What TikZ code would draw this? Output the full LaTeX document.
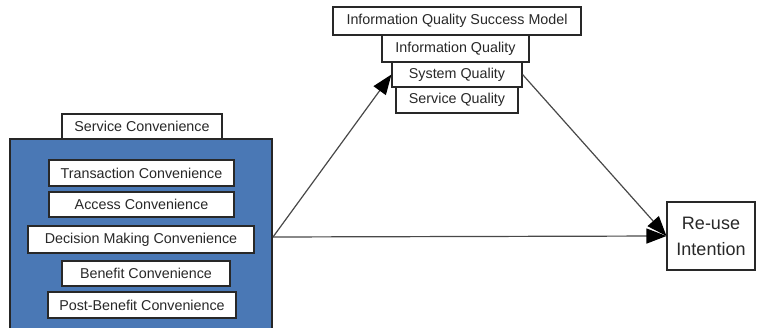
\documentclass[tikz,border=0pt]{standalone}
\usepackage{fontspec}
\setmainfont{Liberation Sans}
\usetikzlibrary{arrows.meta}
\definecolor{panelblue}{RGB}{74,120,181}
\definecolor{ink}{RGB}{40,40,40}
\begin{document}
\begin{tikzpicture}[x=1pt,y=-1pt,
  lbl/.style={draw=ink, line width=1.1pt, fill=white, inner sep=0pt, text=ink,
    font=\fontsize{14.3}{16}\selectfont},
  conn/.style={draw=ink!85, line width=1.2pt,
    -{Triangle[length=20pt,width=15pt,color=black]}}]
\useasboundingbox (0,0) rectangle (757,328);
% left panel of convenience dimensions
\node[draw=black!85, line width=2pt, fill=panelblue, minimum width=262pt, minimum height=196pt, inner sep=0pt]
  (panel) at (141,237) {};
\node[lbl, minimum width=160pt, minimum height=25pt] (sc) at (142,126.5) {Service Convenience};
\node[lbl, minimum width=185pt, minimum height=26pt] (tc) at (141.5,173) {Transaction Convenience};
\node[lbl, minimum width=185pt, minimum height=25pt] (ac) at (141.5,204.5) {Access Convenience};
\node[lbl, minimum width=226pt, minimum height=27pt] (dm) at (141,239.5) {Decision Making Convenience};
\node[lbl, minimum width=168pt, minimum height=25pt] (bc) at (146,273.5) {Benefit Convenience};
\node[lbl, minimum width=188pt, minimum height=26pt] (pb) at (142,305) {Post-Benefit Convenience};
% success model stack
\node[lbl, minimum width=248pt, minimum height=28pt] (iqsm) at (457,21) {Information Quality Success Model};
\node[lbl, minimum width=147pt, minimum height=27pt] (iq) at (455.5,48.5) {Information Quality};
\node[lbl, minimum width=130pt, minimum height=25pt] (sq) at (457,74.5) {System Quality};
\node[lbl, minimum width=122pt, minimum height=26pt] (svq) at (457,100) {Service Quality};
% outcome
\node[lbl, minimum width=88pt, minimum height=68pt, align=center, font=\fontsize{18}{26}\selectfont]
  (reuse) at (711,236) {Re-use\\Intention};
% paths
\draw[conn] (panel.east) -- (sq.west);
\draw[conn] (sq.east) -- (reuse.west);
\draw[conn] (panel.east) -- (reuse.west);
\end{tikzpicture}
\end{document}
